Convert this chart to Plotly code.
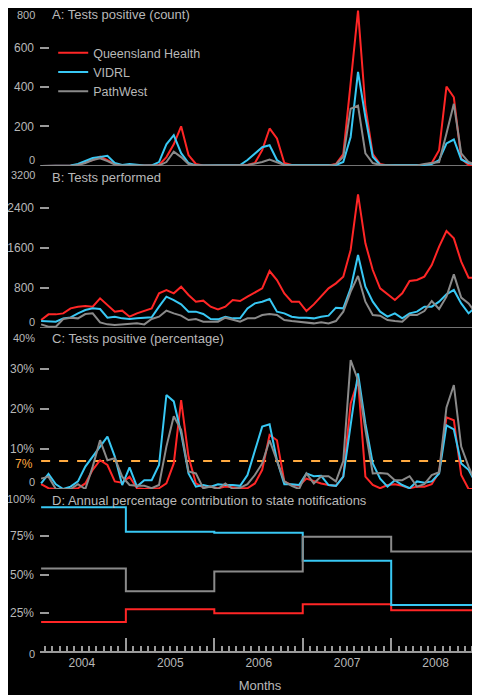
import plotly.graph_objects as go

months = list(range(60))
years = ["2004", "2005", "2006", "2007", "2008"]
series_names = ["Queensland Health", "VIDRL", "PathWest"]

# A: tests positive (count)
qh_positive = [0, 0, 0, 0, 2, 5, 20, 30, 47, 30, 10, 4, 5, 3, 2, 2, 5, 45, 110, 201,
               55, 10, 3, 2, 2, 2, 2, 2, 5, 15, 80, 190, 140, 15, 5, 3, 3, 5, 5, 3,
               10, 60, 420, 787, 300, 60, 10, 3, 3, 5, 5, 3, 5, 15, 80, 402, 348, 38, 5, 0]
vidrl_positive = [0, 0, 0, 2, 3, 10, 25, 40, 45, 52, 15, 5, 10, 5, 3, 3, 20, 110, 156, 65,
                  15, 3, 3, 3, 5, 5, 5, 5, 30, 65, 95, 105, 30, 5, 5, 5, 5, 5, 3, 3,
                  5, 20, 147, 477, 248, 47, 5, 5, 5, 5, 3, 5, 5, 10, 30, 114, 134, 33, 15, 5]
pathwest_positive = [0, 0, 0, 0, 0, 5, 15, 30, 39, 25, 8, 3, 3, 2, 2, 2, 3, 20, 72, 45,
                     10, 3, 2, 2, 2, 2, 2, 2, 5, 12, 20, 33, 20, 5, 3, 3, 3, 3, 3, 3,
                     8, 47, 290, 306, 64, 15, 5, 3, 3, 3, 3, 3, 10, 15, 20, 165, 315, 64, 20, 5]

# B: tests performed
qh_tests = [160, 273, 273, 293, 393, 427, 440, 427, 593, 460, 327, 347, 227, 293, 347, 393, 693, 760, 693, 827,
            660, 527, 547, 427, 373, 427, 560, 540, 627, 707, 793, 1140, 960, 693, 527, 527, 340, 473, 627, 793,
            893, 1027, 1560, 2673, 1693, 1160, 793, 673, 560, 693, 940, 960, 1027, 1260, 1627, 1940, 1793, 1327, 1007, 1007]
vidrl_tests = [140, 127, 127, 193, 213, 293, 360, 393, 380, 207, 227, 193, 180, 193, 207, 213, 427, 627, 560, 473,
               327, 327, 280, 180, 173, 227, 193, 193, 393, 493, 527, 580, 327, 293, 227, 207, 207, 193, 227, 247,
               407, 393, 793, 1460, 827, 527, 327, 227, 293, 193, 293, 327, 427, 427, 527, 673, 760, 493, 293, 427]
pathwest_tests = [73, 27, 27, 180, 207, 193, 280, 293, 113, 73, 60, 73, 93, 93, 73, 180, 227, 347, 293, 247,
                  160, 180, 127, 127, 127, 207, 160, 127, 193, 193, 260, 280, 260, 160, 140, 127, 107, 93, 113, 93,
                  140, 327, 727, 1040, 527, 260, 247, 160, 140, 127, 260, 260, 340, 540, 380, 627, 1073, 607, 493, 293]

# C: tests positive (percentage)
qh_pct = [1.2, 0.2, 0, 0, 0, 0.2, 1.4, 4.8, 7.2, 6.0, 1.9, 1.6, 3.1, 0.2, 0, 0, 0.2, 1.4, 6.4, 22.2,
          8.1, 1.4, 0.4, 0.6, 0.2, 0.6, 0.4, 0.2, 0.2, 1.4, 4.8, 13.5, 12.2, 1.9, 1.0, 0.8, 2.6, 1.9, 1.4, 1.0,
          0.8, 3.1, 21.4, 27.2, 3.1, 1.0, 0.2, 1.0, 1.2, 0.8, 0.2, 0.6, 0.6, 1.2, 4.2, 17.9, 17.2, 3.5, 0, 0]
vidrl_pct = [1.4, 3.8, 1.2, 0, 0.6, 1.9, 5.6, 8.2, 10.6, 13.1, 8.1, 1.0, 5.4, 0.6, 2.2, 2.2, 6.0, 23.5, 21.9, 13.9,
             3.9, 0.6, 1.0, 0.6, 1.2, 1.0, 1.0, 0.8, 3.5, 9.4, 15.6, 16.2, 7.2, 1.2, 1.2, 1.0, 3.9, 3.2, 3.3, 1.0,
             0.8, 3.1, 15.6, 28.9, 16.4, 6.4, 2.6, 0.6, 2.2, 1.0, 0.2, 1.9, 1.6, 1.9, 3.9, 15.9, 14.9, 6.4, 4.8, 1.4]
pathwest_pct = [2.6, 3.1, 0, 0, 0, 1.2, 0, 5.6, 12.2, 7.2, 7.7, 3.1, 1.0, 0.8, 0.8, 0.2, 1.0, 10.6, 18.2, 14.8,
                4.4, 3.9, 0.2, 0.6, 0, 1.4, 0, 0.3, 1.2, 3.5, 6.4, 12.2, 7.2, 1.9, 0.8, 0, 3.9, 1.4, 3.2, 3.2,
                1.9, 7.0, 32.2, 27.2, 14.8, 3.9, 4.0, 3.8, 2.2, 2.2, 3.2, 0.6, 1.2, 3.5, 4.2, 20.4, 26.0, 10.6, 5.6, 1.4]
threshold_pct = 7

# D: annual percentage contribution to state notifications
qh_annual = [19, 27.3, 24.7, 30.5, 26.6]
vidrl_annual = [94, 78, 77.3, 59, 30]
pathwest_annual = [54, 39, 52, 74.7, 65]

# y ticks per panel: (value, label)
ticks_a = [(0, "0"), (200, "200"), (400, "400"), (600, "600"), (800, "800")]
ticks_b = [(0, "0"), (800, "800"), (1600, "1600"), (2400, "2400"), (3200, "3200")]
ticks_c = [(0, "0"), (10, "10%"), (20, "20%"), (30, "30%"), (40, "40%")]
ticks_d = [(0, "0"), (25, "25%"), (50, "50%"), (75, "75%"), (100, "100%")]

RED = "#ff2626"
BLUE = "#38c8f4"
GRAY = "#8a8a8a"
ORANGE = "#ffaa40"
TEXT = "#b8b8b8"
AXIS = "#9a9a9a"
FONT = "Liberation Sans, Arial, sans-serif"
colors = [RED, BLUE, GRAY]

# year step positions (month index where each year starts, clipped to data)
year_starts = [max(0, i * 12 - 0.5) for i in range(len(years))]
step_x = year_starts + [months[-1]]
year_ends = [i * 12 + 11.5 for i in range(len(years))]
month_bounds = [m + 0.5 for m in months[:-1] if (m + 1) % 12 != 0]

fig = go.Figure()

panels = [
    ("y", [qh_positive, vidrl_positive, pathwest_positive]),
    ("y2", [qh_tests, vidrl_tests, pathwest_tests]),
    ("y3", [qh_pct, vidrl_pct, pathwest_pct]),
]
for idx, (yax, data) in enumerate(panels):
    for name, col, vals in zip(series_names, colors, data):
        fig.add_trace(go.Scatter(
            x=months, y=vals, mode="lines", name=name, yaxis=yax,
            line=dict(color=col, width=2), showlegend=(idx == 0),
        ))

for name, col, vals in zip(series_names, colors, [qh_annual, vidrl_annual, pathwest_annual]):
    fig.add_trace(go.Scatter(
        x=step_x, y=vals + [vals[-1]], mode="lines", name=name, yaxis="y4",
        line=dict(color=col, width=2, shape="hv"), showlegend=False,
    ))

tickfont = dict(family=FONT, size=12, color=TEXT)
endfont = dict(family=FONT, size=11, color=TEXT)

def yaxis(domain, ticks):
    # inner ticks get tick marks; the end labels are placed as annotations
    inner = ticks[1:-1]
    return dict(domain=domain, range=[ticks[0][0], ticks[-1][0]],
                tickvals=[t[0] for t in inner], ticktext=[t[1] for t in inner], anchor="x",
                ticks="inside", ticklen=9, tickcolor=AXIS, tickwidth=1.5,
                showgrid=False, zeroline=False, showline=False,
                tickfont=tickfont, ticklabelstandoff=5)

# the page body adds an 8px offset, so the figure is 8px smaller each way
fig.update_layout(
    width=472, height=687,
    margin=dict(l=32, r=0, t=0, b=44, autoexpand=False),
    paper_bgcolor="black", plot_bgcolor="black",
    font=dict(family=FONT, color=TEXT, size=12),
    xaxis=dict(domain=[0, 1], anchor="y4", range=[-0.15, 59.55], automargin=False,
               tickvals=year_ends, ticktext=years, ticklabelshift=-44,
               ticks="inside", ticklen=13, tickcolor=AXIS, tickwidth=1.5,
               minor=dict(tickvals=month_bounds, ticks="inside", ticklen=5,
                          tickcolor=AXIS, tickwidth=1.5),
               showline=True, linecolor=AXIS, linewidth=1.5,
               showgrid=False, zeroline=False, tickfont=tickfont,
               title=dict(text="Months", font=dict(family=FONT, size=13, color=TEXT), standoff=12)),
    yaxis=yaxis([0.7543, 1], ticks_a),
    yaxis2=yaxis([0.5023, 0.7512], ticks_b),
    yaxis3=yaxis([0.2519, 0.5008], ticks_c),
    yaxis4=yaxis([0, 0.2379], ticks_d),
    legend=dict(x=0.03, y=0.953, xanchor="left", yanchor="top", bgcolor="rgba(0,0,0,0)",
                font=dict(family=FONT, size=12.5, color=TEXT), tracegroupgap=0),
)

# end labels of each y axis, nudged inside their panel
end_labels = [
    ("y", ticks_a, -7, 6), ("y2", ticks_b, -7, 6),
    ("y3", ticks_c, -9, 7), ("y4", ticks_d, -1, -3),
]
for yref, ticks, top_shift, bottom_shift in end_labels:
    for (val, txt), shift in [(ticks[-1], top_shift), (ticks[0], bottom_shift)]:
        fig.add_annotation(text=txt, xref="paper", x=0, xanchor="right", xshift=-3,
                           yref=yref, y=val, yanchor="middle", yshift=shift,
                           showarrow=False, font=endfont)

# axis baselines for panels A and B
for yref in ["y", "y2"]:
    fig.add_shape(type="line", xref="x domain", x0=0, x1=1, yref=yref, y0=0, y1=0,
                  line=dict(color=AXIS, width=1.5), layer="below")

# 7% threshold
fig.add_shape(type="line", xref="x", x0=months[0], x1=months[-1], yref="y3",
              y0=threshold_pct, y1=threshold_pct,
              line=dict(color=ORANGE, width=2, dash="dash"), layer="below")
fig.add_annotation(text="7%", xref="paper", x=0, xanchor="right", xshift=-5,
                   yref="y3", y=threshold_pct, yshift=-3, showarrow=False,
                   font=dict(family=FONT, size=12, color=ORANGE))

titles = [
    ("y", 765, "A: Tests positive (count)"),
    ("y2", 3000, "B: Tests performed"),
    ("y3", 37.5, "C: Tests positive (percentage)"),
    ("y4", 98.5, "D: Annual percentage contribution to state notifications"),
]
for yref, yv, txt in titles:
    fig.add_annotation(text=txt, xref="paper", x=0.023, xanchor="left",
                       yref=yref, y=yv, yanchor="middle", showarrow=False,
                       font=dict(family=FONT, size=13, color=TEXT))

fig.write_html("out.html")
